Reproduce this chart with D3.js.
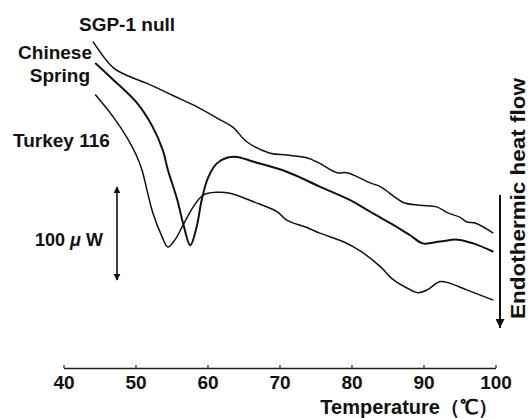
<!DOCTYPE html>
<html>
<head>
<meta charset="utf-8">
<script src="https://cdn.jsdelivr.net/npm/d3@7"></script>
<style>
  body { margin: 0; background: #fff; }
  svg { display: block; }
  text { font-family: "Liberation Sans", Arial, sans-serif; font-weight: bold; fill: #111; }
</style>
</head>
<body>
<svg id="chart"></svg>
<script>
// DSC thermograms, temperature (°C) vs heat flow (µW, relative offset)
const sgpTemp = [44.1, 46.9, 49.0, 51.6, 55.2, 58.5, 61.7, 63.5, 65.5, 68.7, 71.0, 73.8, 75.6, 78.0, 79.4, 82.6, 84.0, 87.2, 89.5, 91.9, 93.3, 95.1, 96.0, 97.2, 99.7];
const sgpFlow = [351, 323, 314, 306, 293, 281, 267, 259, 243, 231, 229, 226, 220, 210, 210, 199, 195, 178, 175, 173, 167, 162, 157, 156, 145];

const csTemp = [44.4, 46.9, 50.2, 52.4, 53.8, 54.5, 55.8, 56.6, 57.6, 58.5, 59.2, 60.1, 61.3, 62.7, 64.1, 66.3, 71.0, 75.6, 80.2, 82.6, 83.5, 85.8, 88.1, 89.9, 92.3, 94.7, 96.9, 99.7];
const csFlow = [328, 310, 285, 259, 234, 213, 181, 156, 132, 152, 181, 205, 220, 226, 227, 222, 211, 195, 179, 168, 164, 154, 143, 134, 136, 138, 134, 125];

const tkTemp = [44.4, 46.9, 48.8, 50.1, 50.9, 51.6, 52.4, 53.7, 54.5, 55.5, 56.5, 58.0, 59.4, 61.3, 63.1, 66.3, 69.7, 71.0, 73.8, 75.6, 78.8, 81.2, 84.0, 85.8, 87.7, 89.2, 90.5, 92.3, 93.7, 96.0, 99.7];
const tkFlow = [294, 270, 248, 229, 213, 191, 167, 141, 130, 138, 152, 173, 186, 189, 188, 179, 168, 159, 151, 145, 136, 126, 109, 95, 86, 81, 84, 93, 91, 84, 73];

const xTicks = [40, 50, 60, 70, 80, 90, 100];
const scaleBar = 100; // µW

const width = 530, height = 418;
const svg = d3.select("#chart").attr("width", width).attr("height", height);

const x = d3.scaleLinear().domain([40, 100]).range([63.5, 495.5]);
const y = d3.scaleLinear().domain([0, 400]).range([368, -4]);

// x axis
const axis = svg.append("g")
  .attr("transform", "translate(0,368)")
  .call(d3.axisBottom(x).tickValues(xTicks).tickSizeInner(-3).tickSizeOuter(0).tickPadding(8));
axis.select(".domain").attr("stroke", "#222").attr("stroke-width", 1.4);
axis.selectAll(".tick line").attr("stroke", "#222").attr("stroke-width", 1.2);
axis.selectAll(".tick text")
  .attr("font-size", 19).attr("font-weight", "bold")
  .attr("font-family", "'Liberation Sans', Arial, sans-serif").attr("fill", "#111");

svg.append("text").attr("x", 498).attr("y", 414).attr("text-anchor", "end")
  .attr("font-size", 20)
  .text("Temperature（℃）");

// curves
const line = d3.line().x(d => x(d[0])).y(d => y(d[1])).curve(d3.curveCatmullRom.alpha(0.5));
const series = [
  { t: sgpTemp, f: sgpFlow, w: 1.5 },
  { t: csTemp, f: csFlow, w: 2 },
  { t: tkTemp, f: tkFlow, w: 1.5 }
];
series.forEach(s => {
  svg.append("path")
    .datum(d3.zip(s.t, s.f))
    .attr("d", line)
    .attr("fill", "none")
    .attr("stroke", "#111")
    .attr("stroke-width", s.w)
    .attr("stroke-linejoin", "round");
});

// curve labels
svg.append("text").attr("x", 79).attr("y", 31).attr("font-size", 19).text("SGP-1 null");
svg.append("text").attr("x", 92).attr("y", 59).attr("text-anchor", "end").attr("font-size", 19).text("Chinese");
svg.append("text").attr("x", 90).attr("y", 82).attr("text-anchor", "end").attr("font-size", 19).text("Spring");
svg.append("text").attr("x", 13).attr("y", 147).attr("font-size", 19).text("Turkey 116");

// 100 µW scale bar
const defs = svg.append("defs");
defs.append("marker").attr("id", "head").attr("viewBox", "0 0 10 10")
  .attr("refX", 9).attr("refY", 5).attr("markerWidth", 7).attr("markerHeight", 9)
  .attr("markerUnits", "userSpaceOnUse").attr("orient", "auto-start-reverse")
  .append("path").attr("d", "M0,0 L10,5 L0,10 Z").attr("fill", "#111");

const barX = 117, barTop = 194.6;
svg.append("line")
  .attr("x1", barX).attr("x2", barX)
  .attr("y1", y(barTop)).attr("y2", y(barTop - scaleBar))
  .attr("stroke", "#111").attr("stroke-width", 1.6)
  .attr("marker-start", "url(#head)").attr("marker-end", "url(#head)");
const lbl = svg.append("text").attr("x", 35).attr("y", 246).attr("font-size", 18).attr("font-weight", "normal");
lbl.append("tspan").text("100 ");
lbl.append("tspan").attr("font-style", "italic").text("μ");
lbl.append("tspan").attr("dx", 5).attr("font-weight", "bold").text("W");

// endothermic arrow
defs.append("marker").attr("id", "bighead").attr("viewBox", "0 0 10 10")
  .attr("refX", 10).attr("refY", 5).attr("markerWidth", 14).attr("markerHeight", 9)
  .attr("markerUnits", "userSpaceOnUse").attr("orient", "auto")
  .append("path").attr("d", "M0,0 L10,5 L0,10 Z").attr("fill", "#111");
svg.append("line").attr("x1", 500).attr("x2", 500).attr("y1", 195).attr("y2", 328)
  .attr("stroke", "#111").attr("stroke-width", 2).attr("marker-end", "url(#bighead)");
svg.append("text")
  .attr("transform", "translate(525,319) rotate(-90)")
  .attr("font-size", 20).attr("textLength", 241).attr("lengthAdjust", "spacingAndGlyphs")
  .text("Endothermic heat flow");
</script>
</body>
</html>
